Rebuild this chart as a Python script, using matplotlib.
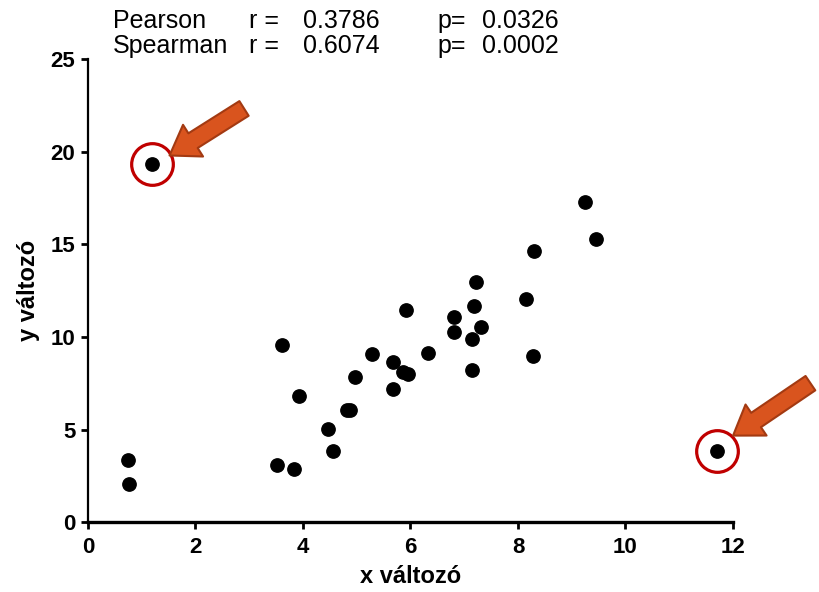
import matplotlib
matplotlib.use("Agg")
import matplotlib.pyplot as plt
from matplotlib.patches import FancyArrowPatch
import matplotlib.transforms as mtransforms

# data
x = [1.19, 11.70, 0.74, 0.76, 3.61, 3.93, 3.52, 3.83, 4.47, 4.56, 4.82, 4.87,
     4.97, 5.28, 5.67, 5.67, 5.86, 5.95, 5.92, 6.33, 6.81, 6.81, 7.14, 7.18,
     7.22, 7.31, 7.14, 8.15, 8.30, 8.28, 9.25, 9.45]
y = [19.35, 3.84, 3.35, 2.05, 9.57, 6.81, 3.08, 2.86, 5.03, 3.84, 6.05, 6.05,
     7.84, 9.08, 7.19, 8.65, 8.11, 8.00, 11.46, 9.14, 11.08, 10.27, 9.89, 11.68,
     12.97, 10.54, 8.22, 12.05, 14.65, 8.97, 17.30, 15.30]
outlier_idx = [0, 1]
stats_names = ["Pearson", "Spearman"]
stats_r = ["0.3786", "0.6074"]
stats_p = ["0.0326", "0.0002"]
xticks = [0, 2, 4, 6, 8, 10, 12]
yticks = [0, 5, 10, 15, 20, 25]

bold_font = ["Liberation Sans", "DejaVu Sans"]
plain = ["Liberation Sans", "DejaVu Sans"]

fig = plt.figure(figsize=(8.19, 5.92), dpi=100)
ax = fig.add_axes([0.1074, 0.118, 0.7876, 0.7818])

ax.plot(x, y, "o", color="black", markersize=9.6, linestyle="none", zorder=3)

ax.set_xlim(0, 12)
ax.set_ylim(0, 25)
ax.set_xticks(xticks)
ax.set_yticks(yticks)

# red circles + arrows at the outliers (offsets in points from the point)
arrow_off = [((68, 41), (11, 5)), ((69, 50), (10, 10))]
for i, (tail, tip) in zip(outlier_idx, arrow_off):
    ax.plot(x[i], y[i], "o", markerfacecolor="none", markeredgecolor="#C00000",
            markersize=30, markeredgewidth=2.3, zorder=4, clip_on=False)
    tr_tail = mtransforms.offset_copy(ax.transData, fig=fig, x=tail[0], y=tail[1], units="points")
    tr_tip = mtransforms.offset_copy(ax.transData, fig=fig, x=tip[0], y=tip[1], units="points")
    p_tail = fig.transFigure.inverted().transform(tr_tail.transform((x[i], y[i])))
    p_tip = fig.transFigure.inverted().transform(tr_tip.transform((x[i], y[i])))
    arr = FancyArrowPatch(p_tail, p_tip, transform=fig.transFigure,
                          arrowstyle="simple,head_length=2.0,head_width=2.7,tail_width=1.25",
                          mutation_scale=10, facecolor="#D9541E", edgecolor="#A33A12",
                          linewidth=1.5, zorder=5)
    fig.patches.append(arr)

for s in ["top", "right"]:
    ax.spines[s].set_visible(False)
ax.spines["bottom"].set_linewidth(2.4)
ax.spines["left"].set_linewidth(1.6)
ax.tick_params(direction="out", length=5, width=2, pad=4)
ax.tick_params(axis="x", pad=6)
for lab in ax.get_xticklabels() + ax.get_yticklabels():
    lab.set_family(bold_font)
    lab.set_fontweight("bold")
    lab.set_fontsize(16)
ax.set_xlabel("x változó", family=bold_font, fontweight="bold", fontsize=17, labelpad=5)
ax.set_ylabel("y változó", family=bold_font, fontweight="bold", fontsize=17, labelpad=8)

# statistics text on top
rows_y = [0.953, 0.911]
for k in range(2):
    fig.text(113 / 819, rows_y[k], stats_names[k], family=plain, fontsize=18, va="baseline")
    fig.text(249 / 819, rows_y[k], "r =", family=plain, fontsize=18, va="baseline")
    fig.text(303 / 819, rows_y[k], stats_r[k], family=plain, fontsize=18, va="baseline")
    fig.text(437 / 819, rows_y[k], "p=", family=plain, fontsize=18, va="baseline")
    fig.text(482 / 819, rows_y[k], stats_p[k], family=plain, fontsize=18, va="baseline")

fig.savefig("out.png", dpi=100)
